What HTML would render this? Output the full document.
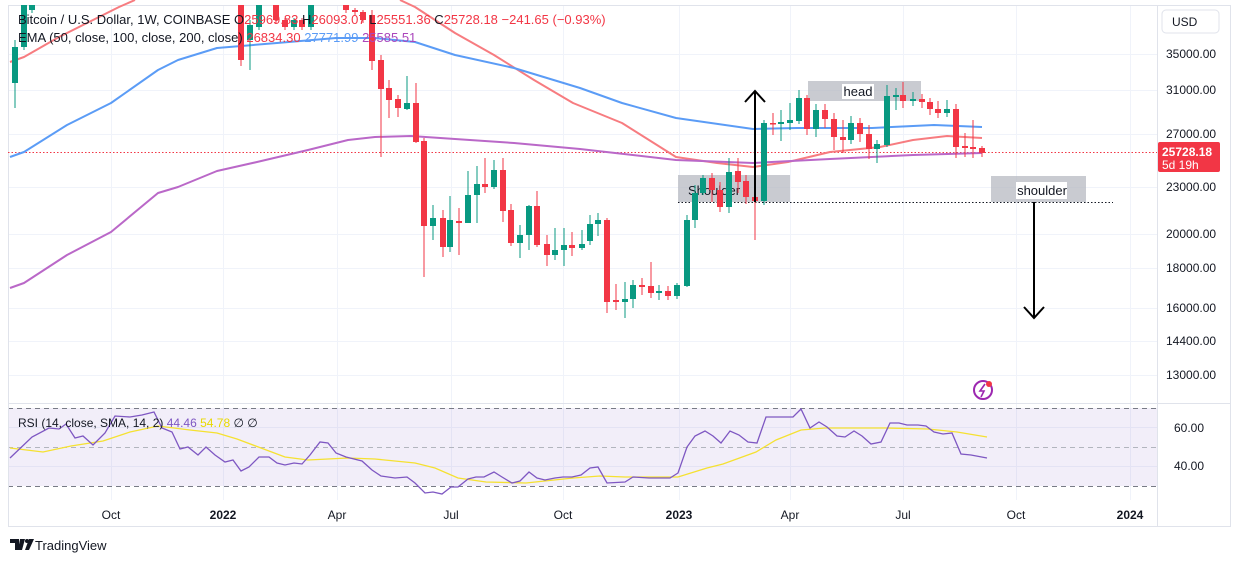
<!DOCTYPE html>
<html><head><meta charset="utf-8"><style>
html,body{margin:0;padding:0;background:#fff;width:1233px;height:563px;overflow:hidden}
svg{display:block;font-family:"Liberation Sans",sans-serif}
</style></head><body>
<svg id="s" width="1233" height="563" viewBox="0 0 1233 563" xmlns="http://www.w3.org/2000/svg">
<rect x="0" y="0" width="1233" height="563" fill="#fff"/>
<g id="grid" stroke="#f0f3fa" stroke-width="1"></g>
<rect x="8" y="408" width="1149" height="78" fill="#7e57c2" fill-opacity="0.1"/>
<line x1="8" y1="408.5" x2="1157" y2="408.5" stroke="#787b86" stroke-dasharray="5,4"/>
<line x1="8" y1="447.5" x2="1157" y2="447.5" stroke="#b2b5be" stroke-dasharray="5,4"/>
<line x1="8" y1="486.5" x2="1157" y2="486.5" stroke="#787b86" stroke-dasharray="5,4"/>
<line x1="8" y1="403.5" x2="1231" y2="403.5" stroke="#e0e3eb"/>
<line x1="1157.5" y1="5" x2="1157.5" y2="527" stroke="#e0e3eb"/>
<rect x="8.5" y="5.5" width="1222" height="521" fill="none" stroke="#e0e3eb"/>
<!-- annotations boxes -->
<rect x="808" y="81" width="113" height="20" fill="#b2b5be" fill-opacity="0.7"/>
<rect x="842" y="84" width="32" height="15" fill="#fff"/>
<text x="858" y="96" font-size="13" text-anchor="middle" fill="#131722">head</text>
<rect x="678" y="175" width="112" height="27" fill="#b2b5be" fill-opacity="0.7"/>
<text x="688" y="195" font-size="13" fill="#131722">Shoulder</text>
<rect x="991" y="176" width="95" height="26" fill="#b2b5be" fill-opacity="0.7"/>
<rect x="1016" y="182" width="51" height="17" fill="#fff"/>
<text x="1042" y="195" font-size="13" text-anchor="middle" fill="#131722">shoulder</text>
<line x1="678" y1="202.5" x2="1113" y2="202.5" stroke="#131722" stroke-dasharray="1.5,2"/>
<line x1="8" y1="152.5" x2="1157" y2="152.5" stroke="#f23645" stroke-dasharray="1.5,2"/>
<g id="ema" fill="none" stroke-width="2" stroke-linejoin="round"></g>
<g id="candles"></g>
<!-- arrows -->
<g stroke="#000" stroke-width="2" fill="none">
<line x1="755" y1="91" x2="755" y2="202"/><polyline points="745,102 755,91 765,102"/>
<line x1="1034" y1="202" x2="1034" y2="318"/><polyline points="1024,307 1034,318 1044,307"/>
</g>
<g id="rsi" fill="none" stroke-width="1.3"></g>
<!-- price axis -->
<g font-size="12" fill="#131722" id="axis"></g>
<rect x="1162" y="10" width="57" height="23" rx="4" fill="#fff" stroke="#e0e3eb"/>
<text x="1172" y="26" font-size="12" fill="#131722">USD</text>
<rect x="1158" y="142" width="62" height="30" rx="2" fill="#f23645"/>
<text x="1162" y="156" font-size="12" fill="#fff" font-weight="bold">25728.18</text>
<text x="1162" y="169" font-size="12" fill="#fff">5d 19h</text>
<text x="1174" y="432" font-size="12" fill="#131722">60.00</text>
<text x="1174" y="470" font-size="12" fill="#131722">40.00</text>
<!-- legend -->
<text x="18" y="24" font-size="13" fill="#131722">Bitcoin / U.S. Dollar, 1W, COINBASE <tspan fill="#131722">O</tspan><tspan fill="#f23645">25969.83 </tspan><tspan fill="#131722">H</tspan><tspan fill="#f23645">26093.07 </tspan><tspan fill="#131722">L</tspan><tspan fill="#f23645">25551.36 </tspan><tspan fill="#131722">C</tspan><tspan fill="#f23645">25728.18 −241.65 (−0.93%)</tspan></text>
<text x="18" y="42" font-size="13" fill="#131722">EMA (50, close, 100, close, 200, close) <tspan fill="#f23645">26834.30</tspan> <tspan fill="#5b9cf6">27771.99</tspan> <tspan fill="#ab47bc">25585.51</tspan></text>
<text x="18" y="427" font-size="12" fill="#131722">RSI (14, close, SMA, 14, 2) <tspan fill="#7e57c2">44.46</tspan> <tspan fill="#e8d900">54.78</tspan> ∅ ∅</text>
<circle cx="983" cy="390" r="9" fill="none" stroke="#9c27b0" stroke-width="2"/>
<path d="M985 384 L980 391 L984 391 L981 397" stroke="#9c27b0" stroke-width="1.6" fill="none"/>
<circle cx="989" cy="384" r="3" fill="#f23645"/>
<g font-size="12" fill="#131722" id="time"></g>
<g transform="translate(10,539)"><path d="M0 0h9v11h-4v-7h-5z M10 0h5l-3 11h-4z" fill="#131722"/><circle cx="17" cy="2" r="2" fill="#131722"/><path d="M19 0h5l-5 11h-4z" fill="#131722"/></g>
<text x="35" y="550" font-size="13" fill="#131722">TradingView</text>
</svg>
<script>
const NS="http://www.w3.org/2000/svg";
function el(p,t,a,txt){const e=document.createElementNS(NS,t);for(const k in a)e.setAttribute(k,a[k]);if(txt)e.textContent=txt;p.appendChild(e);return e;}
const grid=document.getElementById('grid'),axis=document.getElementById('axis'),time=document.getElementById('time');
[[54,'35000.00'],[90,'31000.00'],[134,'27000.00'],[187,'23000.00'],[234,'20000.00'],[268,'18000.00'],[308,'16000.00'],[341,'14400.00'],[375,'13000.00']].forEach(([y,t])=>{
 el(grid,'line',{x1:8,y1:y+.5,x2:1157,y2:y+.5});el(axis,'text',{x:1166,y:y+4},t);});
[427,466].forEach(y=>el(grid,'line',{x1:8,y1:y+.5,x2:1157,y2:y+.5}));
[[111,'Oct'],[223,'2022',1],[337,'Apr'],[451,'Jul'],[563,'Oct'],[679,'2023',1],[790,'Apr'],[903,'Jul'],[1016,'Oct'],[1130,'2024',1]].forEach(([x,t,b])=>{
 el(grid,'line',{x1:x+.5,y1:5,x2:x+.5,y2:500});const a={x:x,y:519,'text-anchor':'middle'};if(b)a['font-weight']='bold';el(time,'text',a,t);});
// candles: x, open, close, [high, low]
const C=[[15,83,47,40,108],[24,47,0],[32,10,0],[241,0,60,0,66],[250,40,25,20,70],[259,27,0],[276,0,20],[285,20,27],[294,27,20],[302,20,27],[311,27,0],
[346,0,10],[355,10,12],[363,12,20],[372,15,61,10,70],[381,60,89,55,157],[389,88,100,80,118],[398,99,108,95,117],[407,109,103,76,110],[416,103,142,83,143],[424,141,226,138,277],
[433,226,218,205,240],[443,218,247,210,257],[450,247,220,196,252],[459,221,223,208,255],[468,223,195,171,223],[477,195,184,166,223],[485,184,187,158,193],[494,187,170,160,189],[503,170,211,158,222],[511,210,243,204,246],
[520,243,235,225,258],[529,235,206,205,250],[537,206,245,191,247],[547,244,255,235,266],[555,255,250,228,260],[564,250,245,228,266],[572,245,248,232,256],[582,248,244,230,250],[590,241,224,215,245],[598,224,220,213,236],
[607,220,302,218,313],[616,300,302,284,310],[625,302,299,282,318],[633,299,285,280,308],[642,285,287,278,295],[651,286,293,262,298],[659,293,291,285,300],[668,291,296,286,300],[677,296,285,283,299],[687,286,220,215,287],
[695,220,193,185,228],[703,193,178,175,195],[712,178,190,173,202],[720,190,207,182,212],[729,207,172,158,213],[738,171,182,158,193],[746,181,197,175,204],[755,197,201,180,240],[764,201,123,120,205],[773,123,124,113,135],
[781,124,122,110,141],[790,123,120,103,130],[799,121,98,90,124],[807,98,129,95,135],[816,129,110,104,137],[825,110,119,104,128],[834,119,137,113,150],[843,137,140,120,153],[851,140,123,116,144],[860,123,134,118,142],
[869,134,149,125,159],[877,149,144,140,163],[887,145,96,85,147],[896,97,95,88,110],[903,95,101,82,108],[913,101,99,92,106],[922,99,102,94,108],[930,102,109,98,115],[938,109,113,101,118],[947,113,109,100,117],
[956,109,147,104,158],[965,146,148,133,157],[973,147,149,120,158],[982,148,153,146,157]];
const cg=document.getElementById('candles');
C.forEach(c=>{const [x,o,cl]=c;const up=cl<o;const col=up?'#089981':'#f23645';
 const top=Math.min(o,cl),bot=Math.max(o,cl);const h=c[3]!==undefined?c[3]:top-2,l=c[4]!==undefined?c[4]:bot+3;
 el(cg,'line',{x1:x,y1:Math.max(5,h),x2:x,y2:l,stroke:col,'stroke-width':1});
 el(cg,'rect',{x:x-3,y:Math.max(5,top),width:6,height:Math.max(1.5,bot-Math.max(5,top)),fill:col});});
const eg=document.getElementById('ema');
function pl(g,pts,col,w){el(g,'polyline',{points:pts.map(p=>p.join(',')).join(' '),stroke:col,'stroke-width':w||2});}
pl(eg,[[10,62],[24,57],[59,37],[119,7],[135,0]],'#f77c80');
pl(eg,[[400,0],[415,7],[455,33],[494,55],[534,80],[573,103],[622,123],[676,157],[717,163],[753,167],[788,162],[830,152],[880,147],[913,140],[947,136],[982,138]],'#f77c80');
pl(eg,[[10,157],[24,152],[67,125],[111,103],[158,70],[178,60],[217,48],[277,43],[336,38],[375,38],[415,42],[455,55],[514,68],[580,88],[622,103],[676,118],[753,129],[797,128],[872,128],[934,125],[982,127]],'#5b9cf6');
pl(eg,[[10,288],[24,283],[67,255],[111,232],[158,193],[178,187],[217,171],[257,162],[308,150],[348,140],[375,137],[411,136],[455,139],[514,143],[580,149],[676,160],[753,163],[830,159],[913,155],[982,153]],'#ba68c8');
const rg=document.getElementById('rsi');
pl(rg,[[10,448],[43,452],[71,446],[103,441],[130,432],[158,426],[190,430],[217,433],[237,439],[261,448],[285,457],[308,460],[348,458],[375,459],[415,463],[435,468],[458,478],[486,482],[526,483],[573,478],[600,476],[625,477],[678,477],[707,468],[723,464],[756,452],[776,440],[801,430],[825,428],[887,428],[928,429],[957,432],[987,437]],'#f5e131',1.3);
pl(rg,[[10,458],[32,437],[49,428],[59,429],[66,424],[75,438],[83,436],[93,445],[105,433],[115,416],[130,417],[142,415],[154,412],[162,428],[172,432],[180,449],[188,447],[198,455],[206,447],[215,455],[225,462],[233,460],[241,471],[249,467],[259,457],[269,457],[277,463],[285,465],[294,463],[302,464],[310,455],[320,442],[328,443],[336,453],[346,457],[362,461],[372,470],[381,476],[395,478],[407,477],[415,483],[425,493],[433,492],[442,494],[451,487],[458,487],[468,479],[476,477],[484,477],[494,472],[502,477],[512,483],[520,481],[529,472],[537,478],[545,480],[555,478],[563,477],[572,477],[581,475],[590,468],[598,467],[607,483],[625,482],[633,477],[649,478],[670,478],[678,473],[687,447],[695,436],[705,431],[713,436],[721,443],[730,431],[739,435],[748,442],[757,443],[766,417],[782,417],[793,417],[801,409],[810,428],[819,422],[827,427],[837,436],[845,437],[854,431],[862,436],[871,444],[881,442],[890,423],[899,423],[907,425],[918,425],[926,426],[934,432],[943,434],[952,433],[961,454],[971,455],[987,458]],'#7e57c2',1.3);
</script>
</body></html>
